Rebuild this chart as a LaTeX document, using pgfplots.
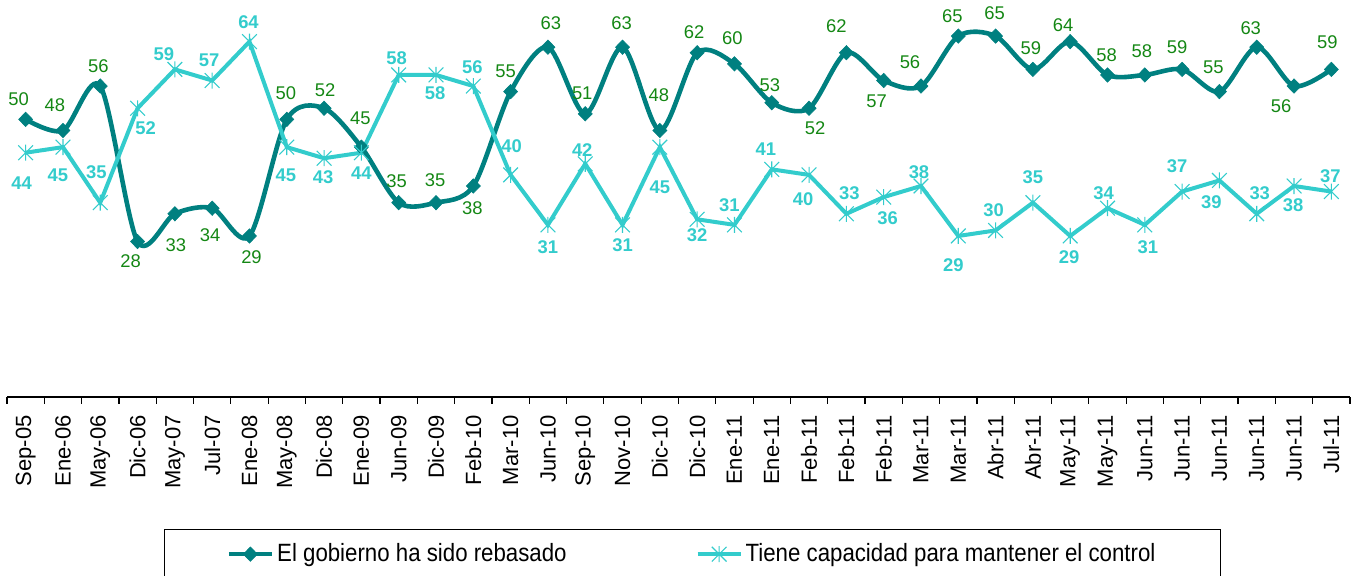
\documentclass[border=0pt]{standalone}
\usepackage{pgfplots}
\pgfplotsset{compat=1.18}
\usepackage{pgfplotstable}
\usepackage{fontspec}
\setmainfont{Liberation Sans}
\newfontfamily\legfont[FakeStretch=0.89]{Liberation Sans}
\definecolor{darkteal}{RGB}{0,128,128}
\definecolor{lightteal}{RGB}{51,204,204}
\definecolor{lblgreen}{RGB}{20,135,20}

\pgfdeclareplotmark{xstar}{%
  \pgfpathmoveto{\pgfqpoint{-0.92\pgfplotmarksize}{-0.92\pgfplotmarksize}}%
  \pgfpathlineto{\pgfqpoint{0.92\pgfplotmarksize}{0.92\pgfplotmarksize}}%
  \pgfpathmoveto{\pgfqpoint{-0.92\pgfplotmarksize}{0.92\pgfplotmarksize}}%
  \pgfpathlineto{\pgfqpoint{0.92\pgfplotmarksize}{-0.92\pgfplotmarksize}}%
  \pgfpathmoveto{\pgfqpoint{0pt}{-\pgfplotmarksize}}%
  \pgfpathlineto{\pgfqpoint{0pt}{\pgfplotmarksize}}%
  \pgfusepathqstroke}

\pgfplotstableread{
x y dx dy
0 50 -7 -20
1 48 -8 -25
2 56 -2 -20
3 28 -7 20
4 33 1 31
5 34 -2 27
6 29 2 21
7 50 -1 -26
8 52 1 -18
9 45 -1 -29
10 35 -2 -21
11 35 -1 -22
12 38 -1 22
13 55 -5 -20
14 63 3 -24
15 51 -3 -21
16 63 -1 -24
17 48 -1 -35
18 62 -3 -21
19 60 -2 -26
20 53 -2 -18
21 52 6 20
22 62 -10 -27
23 57 -7 21
24 56 -11 -24
25 65 -6 -20
26 65 -1 -23
27 59 -2 -21
28 64 -7 -16
29 58 -1 -20
30 58 -3 -24
31 59 -5 -22
32 55 -6 -24
33 63 -6 -19
34 56 -13 20
35 59 -4 -27
}\dark

\pgfplotstableread{
x y dx dy
0 44 -4 30
1 45 -5 28
2 35 -4 -30
3 52 8 20
4 59 -11 -15
5 57 -3 -20
6 64 -1 -19
7 45 -1 28
8 43 -1 19
9 44 0 20
10 58 -2 -17
11 58 -1 18
12 56 -1 -19
13 40 1 -29
14 31 0 22
15 42 -3 -14
16 31 0 20
17 45 0 40
18 32 0 16
19 31 -5 -20
20 41 -6 -20
21 40 -6 24
22 33 3 -21
23 36 4 21
24 38 -2 -14
25 29 -5 29
26 30 -2 -20
27 35 0 -25
28 29 -1 21
29 34 -4 -15
30 31 3 22
31 37 -5 -25
32 39 -8 22
33 33 3 -21
34 38 -1 19
35 37 -1 -15
}\light

\begin{document}
\begin{tikzpicture}
\path[use as bounding box] (-3.5pt,-89.5pt) rectangle (674pt,198.5pt);
\begin{axis}[
  at={(0pt,0pt)}, anchor=south west,
  scale only axis, width=671.5pt, height=198.5pt,
  xmin=-0.5, xmax=35.5, ymin=0, ymax=71.5,
  axis x line=bottom, axis y line=none,
  x axis line style={-, line width=0.6pt, black},
  xtick={0,...,35},
  xticklabels={Sep-05,Ene-06,May-06,Dic-06,May-07,Jul-07,Ene-08,May-08,Dic-08,Ene-09,Jun-09,Dic-09,Feb-10,Mar-10,Jun-10,Sep-10,Nov-10,Dic-10,Dic-10,Ene-11,Ene-11,Feb-11,Feb-11,Feb-11,Mar-11,Mar-11,Abr-11,Abr-11,May-11,May-11,Jun-11,Jun-11,Jun-11,Jun-11,Jun-11,Jul-11},
  major tick length=0pt,
  minor xtick={-0.5,0.5,...,35.5},
  minor tick length=3.5pt, tick align=outside,
  minor tick style={line width=0.6pt, black},
  xticklabel style={rotate=90, anchor=east, inner sep=0pt, font=\fontsize{11}{13}\selectfont},
  xticklabel shift=9pt,
  clip=false,
  /pgf/number format/assume math mode=true,
  legend columns=2,
  legend cell align=left,
  legend style={at={(0.1169,-0.3325)}, anchor=north west, draw=black, line width=0.6pt,
    inner xsep=31pt, inner ysep=5.5pt, font=\legfont\fontsize{12.5}{14}\selectfont,
    nodes={inner sep=1.5pt},
    /tikz/every even column/.append style={column sep=63pt}},
  legend image code/.code={\draw[mark repeat=2,mark phase=2,#1] plot coordinates {(0pt,0pt)(10.75pt,0pt)(21.5pt,0pt)};},
]
\addplot[darkteal, line width=2.3pt, smooth, tension=0.5,
  mark=diamond*, mark size=3.6pt,
  mark options={solid, xscale=1.3, line width=0.3pt, fill=darkteal},
  nodes near coords, point meta=explicit,
  visualization depends on={\thisrow{dx} \as \ldx},
  visualization depends on={\thisrow{dy} \as \ldy},
  every node near coord/.append style={anchor=center, xshift={0.5pt*\ldx}, yshift={-0.5pt*\ldy},
    font=\fontsize{9.2}{10}\selectfont, text=lblgreen, inner sep=0pt}
] table[x=x, y=y, meta=y] {\dark};
\addplot[lightteal, line width=2pt,
  mark=xstar, mark size=4pt,
  mark options={solid, line width=0.55pt},
  nodes near coords, point meta=explicit,
  visualization depends on={\thisrow{dx} \as \ldx},
  visualization depends on={\thisrow{dy} \as \ldy},
  every node near coord/.append style={anchor=center, xshift={0.5pt*\ldx}, yshift={-0.5pt*\ldy},
    font=\bfseries\fontsize{9.2}{10}\selectfont, text=lightteal, inner sep=0pt}
] table[x=x, y=y, meta=y] {\light};
\legend{El gobierno ha sido rebasado, Tiene capacidad para mantener el control}
\end{axis}
\end{tikzpicture}
\end{document}
